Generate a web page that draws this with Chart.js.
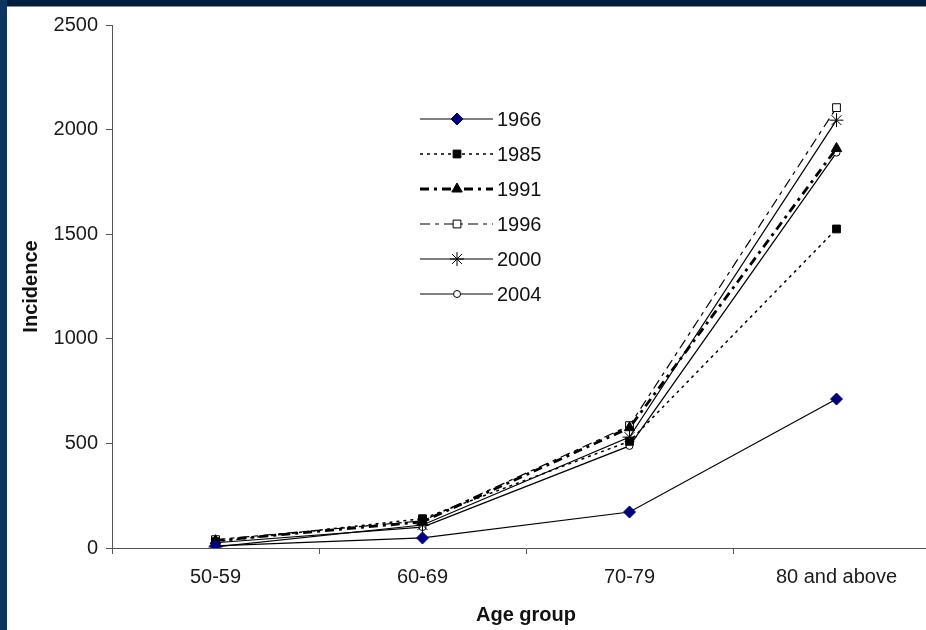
<!DOCTYPE html>
<html>
<head>
<meta charset="utf-8">
<script src="https://cdn.jsdelivr.net/npm/chart.js@4.4.1/dist/chart.umd.min.js"></script>
<style>
  html, body { margin: 0; padding: 0; background: #fff; overflow: hidden; width: 926px; height: 630px; }
  #wrap { position: absolute; left: 0; top: 0; width: 948px; height: 630px; }
  .bandTop { position: absolute; left: 0; top: 0; width: 926px; height: 6px; background: #001f3d; border-bottom: 1px solid #8a8f96; }
  .bandLeft { position: absolute; left: 0; top: 0; width: 7px; height: 630px; background: #0b3661; }
</style>
</head>
<body>
<div id="wrap"><canvas id="grafico" width="948" height="630"></canvas></div>
<div class="bandTop"></div>
<div class="bandLeft"></div>
<script>
// Datos
const grupos = ['50-59', '60-69', '70-79', '80 and above'];
const ticksY = [0, 500, 1000, 1500, 2000, 2500];

const s1966 = [10, 48, 172, 712];
const s1985 = [30, 140, 510, 1525];
const s1991 = [35, 125, 575, 1910];
const s1996 = [40, 130, 585, 2105];
const s2000 = [5, 110, 530, 2045];
const s2004 = [25, 100, 488, 1890];

const FUENTE = 'Arial, "Liberation Sans", sans-serif';

function serie(label, data, extra) {
  return Object.assign({
    label, data,
    borderColor: '#000', borderWidth: 1.2,
    pointBorderColor: '#000', pointBackgroundColor: '#000',
    pointBorderWidth: 1, tension: 0, fill: false
  }, extra);
}

const datasets = [
  serie('1966', s1966, { pointStyle: 'rectRot', pointRadius: 6, pointBackgroundColor: '#00007f', pointBorderColor: '#00007f' }),
  serie('1985', s1985, { borderWidth: 1.5, borderDash: [3, 4], pointStyle: 'rect', pointRadius: 5.5 }),
  serie('1991', s1991, { borderWidth: 2.8, borderDash: [9, 5, 3, 5], pointStyle: 'triangle', pointRadius: 6 }),
  serie('1996', s1996, { borderDash: [10, 5, 4, 5], pointStyle: 'rect', pointRadius: 5.5, pointBackgroundColor: '#fff' }),
  serie('2000', s2000, { pointStyle: 'star', pointRadius: 7 }),
  serie('2004', s2004, { pointStyle: 'circle', pointRadius: 3.5, pointBackgroundColor: '#fff' })
];

// ── Leyenda propia: línea con marcador al medio ──
const leyendaPlugin = {
  id: 'leyendaLinea',
  afterDatasetsDraw(chart) {
    const ctx = chart.ctx;
    const x0 = 420, x1 = 493, xm = 457, y0 = 119, paso = 35;
    chart.data.datasets.forEach((ds, i) => {
      const y = y0 + i * paso;
      ctx.save();
      ctx.strokeStyle = ds.borderColor;
      ctx.lineWidth = ds.borderWidth;
      ctx.setLineDash(ds.borderDash || []);
      ctx.beginPath();
      ctx.moveTo(x0, y);
      ctx.lineTo(x1, y);
      ctx.stroke();
      ctx.setLineDash([]);
      ctx.fillStyle = ds.pointBackgroundColor;
      ctx.strokeStyle = ds.pointBorderColor;
      ctx.lineWidth = ds.pointBorderWidth;
      Chart.helpers.drawPoint(ctx, { pointStyle: ds.pointStyle, radius: ds.pointRadius, rotation: 0, borderWidth: 1 }, xm, y);
      ctx.fillStyle = '#111';
      ctx.font = '20px ' + FUENTE;
      ctx.textBaseline = 'middle';
      ctx.textAlign = 'left';
      ctx.fillText(ds.label, x1 + 4, y + 1);
      ctx.restore();
    });
  }
};

new Chart(document.getElementById('grafico').getContext('2d'), {
  type: 'line',
  data: { labels: grupos, datasets },
  plugins: [leyendaPlugin],
  options: {
    responsive: false,
    animation: false,
    layout: { padding: { top: 25, left: 0, right: 0, bottom: 0 } },
    plugins: { legend: { display: false }, tooltip: { enabled: false } },
    scales: {
      x: {
        offset: true,
        afterFit: s => { s.height = 82; },
        border: { color: '#555', width: 1 },
        grid: { offset: true, drawOnChartArea: false, drawTicks: true, tickLength: 6, color: '#555' },
        ticks: { color: '#1a1a1a', padding: 11, font: { family: FUENTE, size: 20 } },
        title: { display: true, text: 'Age group', color: '#111', padding: { top: 14, bottom: 3 },
                 font: { family: FUENTE, size: 20, weight: 'bold' } }
      },
      y: {
        min: 0, max: 2500,
        afterFit: s => { s.width = 112; },
        afterBuildTicks: s => { s.ticks = ticksY.map(v => ({ value: v })); },
        border: { color: '#555', width: 1 },
        grid: { drawOnChartArea: false, drawTicks: true, tickLength: 6, color: '#555' },
        ticks: { color: '#1a1a1a', padding: 8, font: { family: FUENTE, size: 20 }, callback: v => String(v) },
        title: { display: true, text: 'Incidence', color: '#111', padding: { top: 19, bottom: 0 },
                 font: { family: FUENTE, size: 20, weight: 'bold' } }
      }
    }
  }
});
</script>
</body>
</html>
